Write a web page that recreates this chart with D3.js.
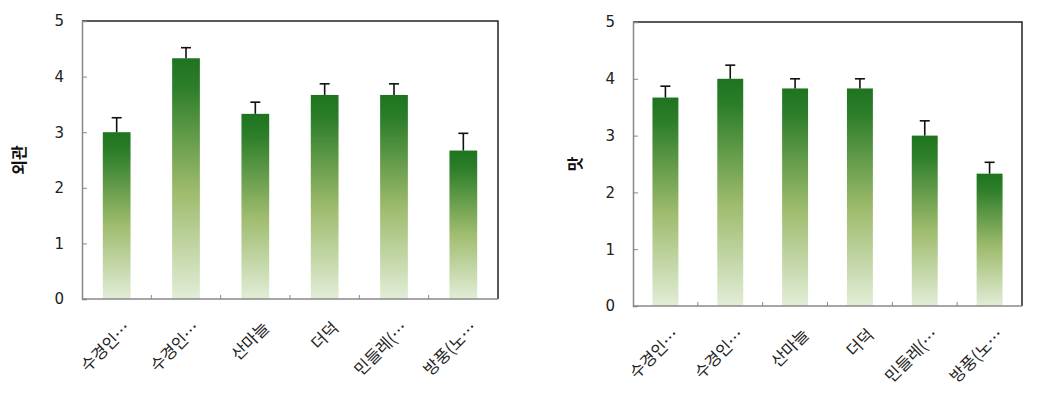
<!DOCTYPE html>
<html><head><meta charset="utf-8">
<script src="https://cdn.jsdelivr.net/npm/d3@7"></script>
<style>
html,body{margin:0;padding:0;background:#fff;}
svg{display:block;font-family:"Noto Sans CJK KR","Noto Sans",sans-serif;}
</style></head>
<body>
<svg id="chart" width="1049" height="411"></svg>
<script>
const categories = ["수경인…", "수경인…", "산마늘", "더덕", "민들레(…", "방풍(노…"];
const appearanceValues = [3.0, 4.33, 3.33, 3.67, 3.67, 2.67];
const appearanceErrors = [0.26, 0.19, 0.21, 0.2, 0.2, 0.31];
const tasteValues = [3.67, 4.0, 3.83, 3.83, 3.0, 2.33];
const tasteErrors = [0.2, 0.24, 0.17, 0.17, 0.26, 0.2];
const yTicks = [0, 1, 2, 3, 4, 5];
const titles = ["외관", "맛"];

const svg = d3.select("#chart");
const defs = svg.append("defs");
const grad = defs.append("linearGradient").attr("id", "barGrad")
  .attr("x1", 0).attr("y1", 0).attr("x2", 0).attr("y2", 1);
[[0, "#1e741e"], [0.12, "#2d7e2a"], [0.55, "#9dbb6c"], [1, "#e2edd7"]].forEach(([o, c]) =>
  grad.append("stop").attr("offset", o).attr("stop-color", c));

function panel(cfg, values, errors, title) {
  const g = svg.append("g");
  const x = d3.scaleBand().domain(d3.range(categories.length)).range([cfg.left, cfg.right]).paddingInner(0.6).paddingOuter(0.3);
  const xb = d3.scaleBand().domain(d3.range(categories.length)).range([cfg.left, cfg.right]);
  const y = d3.scaleLinear().domain([0, 5]).range([cfg.bottom, cfg.top]);

  g.selectAll("rect.bar").data(values).join("rect").attr("class", "bar")
    .attr("x", (d, i) => x(i)).attr("width", x.bandwidth())
    .attr("y", d => y(d)).attr("height", d => y(0) - y(d))
    .attr("fill", "url(#barGrad)");

  const eb = g.selectAll("g.err").data(values).join("g").attr("class", "err");
  eb.append("line")
    .attr("x1", (d, i) => x(i) + x.bandwidth() / 2).attr("x2", (d, i) => x(i) + x.bandwidth() / 2)
    .attr("y1", d => y(d)).attr("y2", (d, i) => y(d + errors[i]))
    .attr("stroke", "#111").attr("stroke-width", 1.6);
  eb.append("line")
    .attr("x1", (d, i) => x(i) + x.bandwidth() / 2 - 5).attr("x2", (d, i) => x(i) + x.bandwidth() / 2 + 5)
    .attr("y1", (d, i) => y(d + errors[i])).attr("y2", (d, i) => y(d + errors[i]))
    .attr("stroke", "#111").attr("stroke-width", 1.6);

  g.append("path")
    .attr("d", `M${cfg.left},${cfg.top}H${cfg.right}V${cfg.bottom}`)
    .attr("fill", "none").attr("stroke", "#222").attr("stroke-width", 1.5);

  const ya = g.append("g").attr("transform", `translate(${cfg.left},0)`)
    .call(d3.axisLeft(y).tickValues(yTicks).tickSize(-5).tickPadding(18).tickFormat(d3.format("d")));
  ya.select(".domain").attr("stroke", "#888").attr("stroke-width", 1.5);
  ya.selectAll(".tick line").attr("stroke", "#888");
  ya.selectAll(".tick text").attr("font-size", 15).attr("fill", "#222")
    .attr("font-family", "'DejaVu Sans',sans-serif");

  const xa = g.append("g").attr("transform", `translate(0,${cfg.bottom})`);
  xa.append("line").attr("x1", cfg.left).attr("x2", cfg.right).attr("y1", 0).attr("y2", 0)
    .attr("stroke", "#888").attr("stroke-width", 1.5);
  xa.selectAll("line.tk").data(d3.range(1, categories.length)).join("line").attr("class", "tk")
    .attr("x1", i => xb(i)).attr("x2", i => xb(i)).attr("y1", 0).attr("y2", -4)
    .attr("stroke", "#888");
  xa.selectAll("text").data(categories).join("text")
    .attr("transform", (d, i) => `translate(${xb(i) + xb.bandwidth() / 2 + 15},${30}) rotate(-45)`)
    .attr("text-anchor", "end").attr("font-size", 16.5).attr("fill", "#222").text(d => d);

  g.append("text")
    .attr("transform", `translate(${cfg.titleX},${(cfg.top + cfg.bottom) / 2}) rotate(-90)`)
    .attr("text-anchor", "middle").attr("font-size", 16).attr("font-weight", "bold").attr("fill", "#111")
    .text(title);
}

panel({left: 82, right: 498, top: 21, bottom: 299, titleX: 25}, appearanceValues, appearanceErrors, titles[0]);
panel({left: 633, right: 1022, top: 22, bottom: 306, titleX: 581}, tasteValues, tasteErrors, titles[1]);
</script>
</body></html>
